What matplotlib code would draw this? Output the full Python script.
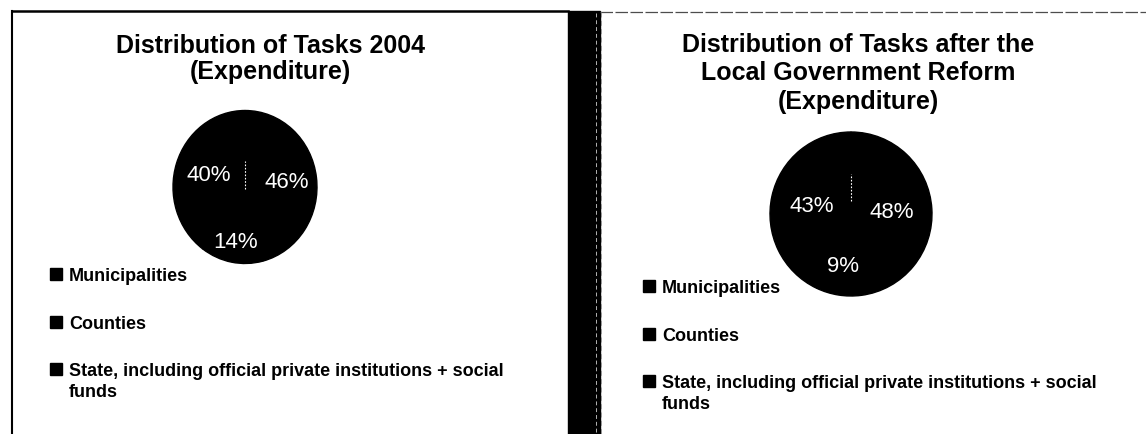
import textwrap
import matplotlib
matplotlib.use("Agg")
import matplotlib.pyplot as plt
from matplotlib.patches import Rectangle
from matplotlib.lines import Line2D
import numpy as np

# data
categories = ["Municipalities", "Counties",
              "State, including official private institutions + social funds"]
shares_2004 = [46, 14, 40]
shares_reform = [48, 9, 43]
title_2004 = "Distribution of Tasks 2004\n(Expenditure)"
title_reform = "Distribution of Tasks after the\nLocal Government Reform\n(Expenditure)"

W, H = 1146, 435
FONT = ["Liberation Sans", "DejaVu Sans"]


def fx(x):
    return x / W


def fy(y):
    return 1 - y / H


fig = plt.figure(figsize=(W / 100, H / 100), dpi=100)
fig.patch.set_facecolor("white")

# frame bits: left panel box, dark divider strip, thin top line of right panel
fig.add_artist(Line2D([fx(12), fx(12)], [fy(12), fy(435)], color="black", lw=1.5))
fig.add_artist(Line2D([fx(12), fx(568)], [fy(12), fy(12)], color="black", lw=1.8))
fig.add_artist(Rectangle((fx(568), 0), fx(600) - fx(568), fy(12), color="black"))
fig.add_artist(Line2D([fx(596), fx(596)], [fy(14), 0], color="0.7", lw=0.7,
                      linestyle=(0, (4, 3))))
fig.add_artist(Line2D([fx(600), 1], [fy(13), fy(13)], color="0.3", lw=0.9,
                      linestyle=(0, (10, 2))))
fig.add_artist(Line2D([fx(601), fx(601)], [fy(13), 0], color="0.55", lw=0.6,
                      linestyle=(0, (6, 4))))


def draw_panel(shares, title, cx, cy, rx, ry, title_x, title_y, title_ls,
               pct_r, line_r, leg_x, leg_y):
    ax = fig.add_axes([fx(cx - rx), fy(cy + ry), 2 * rx / W, 2 * ry / H])
    wedges, _ = ax.pie(shares, colors=["black"] * len(shares), startangle=90,
                       counterclock=False, radius=1,
                       wedgeprops=dict(edgecolor="black", linewidth=1.0))
    ax.set_xlim(-1, 1)
    ax.set_ylim(-1, 1)
    ax.set_aspect("auto")
    ax.axis("off")

    for w, v, r in zip(wedges, shares, pct_r):
        ang = np.deg2rad((w.theta1 + w.theta2) / 2)
        ax.text(r * np.cos(ang), r * np.sin(ang), f"{v}%", color="white",
                ha="center", va="center", fontsize=16, family=FONT)

    # boundary of the first wedge at the start angle, short dotted white line
    a0 = np.deg2rad(max(wedges[0].theta1, wedges[0].theta2))
    ax.plot([line_r[0] * np.cos(a0), line_r[1] * np.cos(a0)],
            [line_r[0] * np.sin(a0), line_r[1] * np.sin(a0)],
            color="white", lw=0.8, linestyle=(0, (1.5, 1.5)))

    fig.text(fx(title_x), fy(title_y), title, ha="center", va="center",
             fontsize=18, fontweight="bold", family=FONT,
             linespacing=title_ls, multialignment="center")

    for i, name in enumerate(categories):
        y = leg_y + i * 47.5
        fig.add_artist(Rectangle((fx(leg_x), fy(y + 6)), 12 / W, 12 / H,
                                 color="black"))
        fig.text(fx(leg_x + 19), fy(y - 6.7), textwrap.fill(name, 56),
                 ha="left", va="top", fontsize=13, fontweight="bold",
                 family=FONT, linespacing=1.3)


draw_panel(shares_2004, title_2004, 245, 188, 72, 76.5, 270, 59, 1.13,
           [0.58, 0.73, 0.53], (-0.03, 0.34), 50, 275)
draw_panel(shares_reform, title_reform, 851, 215, 81, 82, 858, 73.5, 1.26,
           [0.51, 0.64, 0.5], (0.16, 0.49), 643, 287)

fig.savefig("out.png", dpi=100, facecolor="white")
